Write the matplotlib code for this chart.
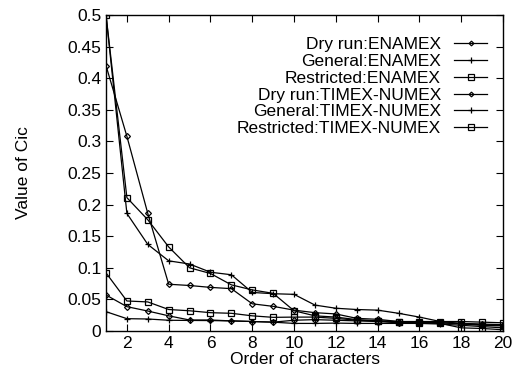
import matplotlib
matplotlib.use("Agg")
import matplotlib.pyplot as plt
from matplotlib.ticker import FuncFormatter, MultipleLocator

plt.rcParams['font.family'] = ['Liberation Sans', 'DejaVu Sans']

# order of characters
x = list(range(1, 21))

# Cic values
dry_enamex = [0.42, 0.308, 0.186, 0.074, 0.072, 0.069, 0.067, 0.043, 0.039, 0.033,
              0.029, 0.027, 0.020, 0.0185, 0.015, 0.014, 0.013, 0.011, 0.009, 0.008]
gen_enamex = [0.5, 0.186, 0.137, 0.111, 0.106, 0.093, 0.089, 0.061, 0.059, 0.058,
              0.041, 0.036, 0.034, 0.033, 0.028, 0.022, 0.015, 0.012, 0.010, 0.009]
res_enamex = [0.5, 0.211, 0.176, 0.133, 0.100, 0.091, 0.073, 0.065, 0.0596, 0.032,
              0.024, 0.022, 0.018, 0.016, 0.014, 0.013, 0.012, 0.005, 0.004, 0.002]
dry_timex = [0.057, 0.0385, 0.0316, 0.024, 0.0174, 0.0174, 0.016, 0.015, 0.014, 0.017,
             0.018, 0.017, 0.016, 0.015, 0.013, 0.013, 0.013, 0.012, 0.011, 0.010]
gen_timex = [0.0306, 0.0195, 0.019, 0.017, 0.0167, 0.0165, 0.016, 0.015, 0.014, 0.012,
             0.012, 0.0125, 0.012, 0.012, 0.012, 0.012, 0.011, 0.009, 0.007, 0.005]
res_timex = [0.092, 0.0475, 0.046, 0.034, 0.032, 0.029, 0.028, 0.024, 0.0216, 0.022,
             0.022, 0.020, 0.017, 0.016, 0.015, 0.015, 0.015, 0.015, 0.014, 0.013]

labels = ['Dry run:ENAMEX', 'General:ENAMEX', 'Restricted:ENAMEX',
          'Dry run:TIMEX-NUMEX', 'General:TIMEX-NUMEX', 'Restricted:TIMEX-NUMEX']
series = [dry_enamex, gen_enamex, res_enamex, dry_timex, gen_timex, res_timex]
markers = ['D', '+', 's', 'D', '+', 's']
msizes = [3, 5, 5, 3, 5, 5]

fig = plt.figure(figsize=(5.15, 3.74), dpi=100)
ax = fig.add_axes([106 / 515, 1 - 331 / 374, 397 / 515, 316 / 374])

for y, lab, m, ms in zip(series, labels, markers, msizes):
    ax.plot(x, y, color='black', lw=0.9, marker=m, ms=ms, mfc='none',
            mec='black', mew=0.9, label=lab)

ax.set_xlim(1, 20)
ax.set_ylim(0, 0.5)
ax.xaxis.set_major_locator(MultipleLocator(2))
ax.yaxis.set_major_locator(MultipleLocator(0.05))
ax.yaxis.set_major_formatter(FuncFormatter(lambda v, p: '%g' % round(v, 3)))
ax.tick_params(direction='in', top=True, right=True, labelsize=12.5, length=5, width=0.8)
for s in ax.spines.values():
    s.set_linewidth(1)

ax.set_xlabel('Order of characters', fontsize=12.5, labelpad=1)
ax.set_ylabel('Value of Cic', fontsize=12.5, labelpad=26)

ax.legend(loc='upper right', frameon=False, markerfirst=False, fontsize=12.5,
          handlelength=1.9, handletextpad=0.75, labelspacing=0.1,
          markerscale=0.8, borderaxespad=0.4, bbox_to_anchor=(0.995, 0.975))

fig.savefig('out.png', dpi=100)
